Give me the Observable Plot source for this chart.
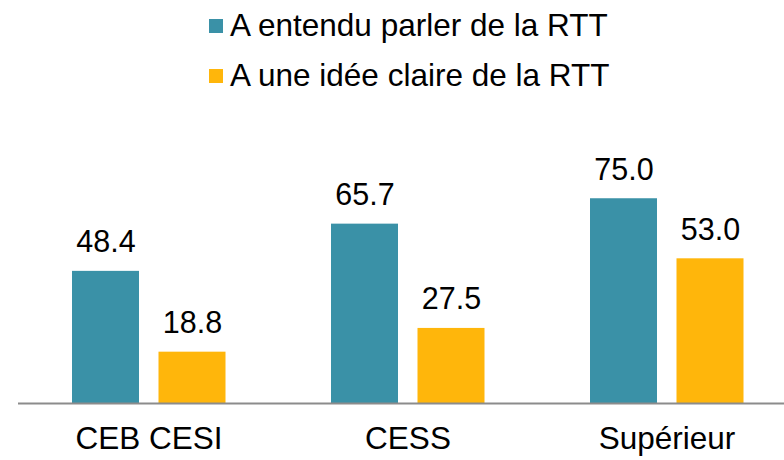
<!DOCTYPE html>
<html><head><meta charset="utf-8">
<script src="https://cdn.jsdelivr.net/npm/d3@7"></script>
<script src="https://cdn.jsdelivr.net/npm/@observablehq/plot@0.6"></script>
<style>
body{margin:0;background:#fff;font-family:"Liberation Sans",Arial,sans-serif;}
#wrap{position:relative;width:784px;height:460px;overflow:hidden;}
#legend{position:absolute;left:0;top:0;width:784px;height:110px;}
.item{position:absolute;left:209px;display:flex;align-items:center;font-size:31.5px;color:#000;white-space:nowrap;}
.sw{width:14px;height:14px;margin-right:7px;flex:none;}
#chart{position:absolute;left:0;top:110px;}
</style></head>
<body>
<div id="wrap"><div id="legend"></div><div id="chart"></div></div>
<script>
const categories = ["CEB CESI", "CESS", "Supérieur"];
const seriesNames = ["A entendu parler de la RTT", "A une idée claire de la RTT"];
const heard = [48.4, 65.7, 75.0];
const clear = [18.8, 27.5, 53.0];
const colors = ["#3A91A7", "#FFB60B"];

const legend = document.getElementById("legend");
seriesNames.forEach((s, i) => {
  const d = document.createElement("div");
  d.className = "item";
  d.style.top = (i === 0 ? 7 : 57) + "px";
  d.innerHTML = `<span class="sw" style="background:${colors[i]}"></span><span>${s}</span>`;
  legend.appendChild(d);
});

const dataHeard = categories.map((c, i) => ({cat: c, value: heard[i]}));
const dataClear = categories.map((c, i) => ({cat: c, value: clear[i]}));

const chart = Plot.plot({
  width: 784,
  height: 350,
  marginLeft: 18,
  marginRight: 0,
  marginTop: 20,
  marginBottom: 57,
  style: {fontFamily: "Liberation Sans, Arial, sans-serif", background: "#fff"},
  x: {domain: categories, range: [18.25, 796.75], paddingInner: 0, paddingOuter: 0, label: null},
  y: {domain: [0, 100], axis: null},
  marks: [
    Plot.barY(dataHeard, {x: "cat", y: "value", fill: colors[0], insetLeft: 53, insetRight: 139}),
    Plot.barY(dataClear, {x: "cat", y: "value", fill: colors[1], insetLeft: 139.5, insetRight: 52.5}),
    Plot.text(dataHeard, {x: "cat", y: "value", text: d => d.value.toFixed(1), dx: -43, dy: -29, fontSize: 30.5, fill: "#000", lineAnchor: "middle"}),
    Plot.text(dataClear, {x: "cat", y: "value", text: d => d.value.toFixed(1), dx: 43.5, dy: -29, fontSize: 30.5, fill: "#000", lineAnchor: "middle"}),
    Plot.ruleY([0], {stroke: "#8C8C8C", strokeWidth: 2}),
    Plot.axisX({tickSize: 0, tickPadding: 23, fontSize: 31.5, fill: "#000", label: null})
  ]
});
document.getElementById("chart").appendChild(chart);
</script>
</body></html>
